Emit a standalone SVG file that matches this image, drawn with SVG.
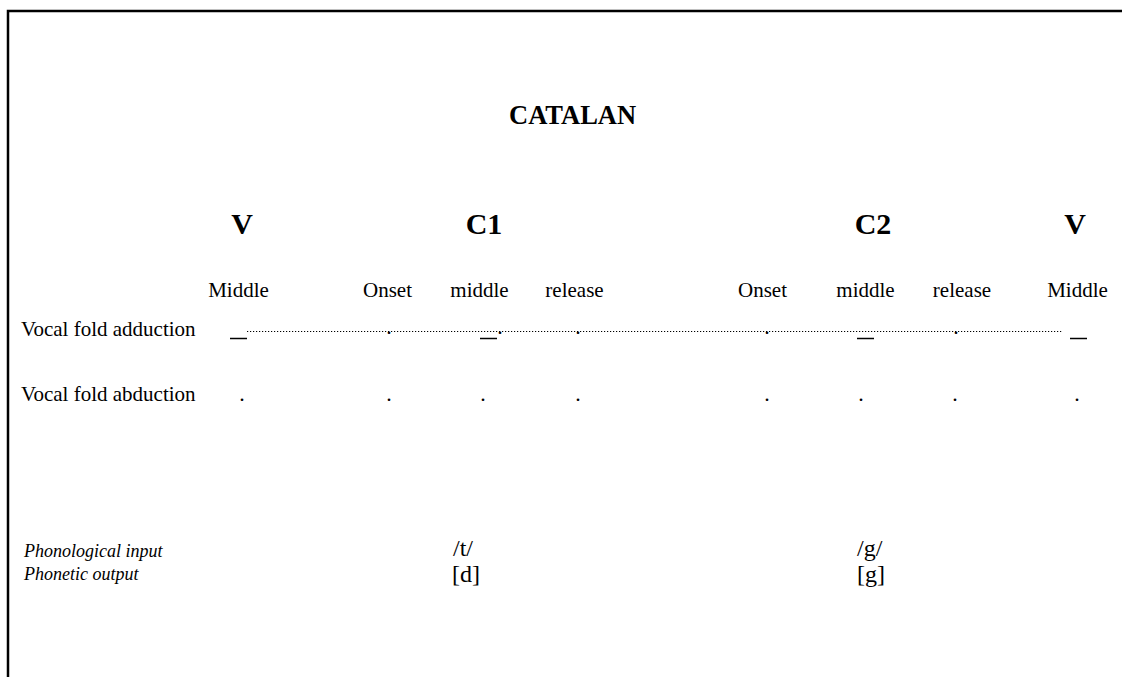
<svg xmlns="http://www.w3.org/2000/svg" width="1122" height="677" viewBox="0 0 1122 677">
  <style>
    .serif { font-family: "Liberation Serif", "Times New Roman", serif; fill: #000; }
    .title { font-size: 26.5px; font-weight: bold; }
    .seg { font-size: 30px; font-weight: bold; text-anchor: middle; }
    .lbl { font-size: 21px; }
    .phase { font-size: 21px; text-anchor: middle; }
    .dot { font-size: 22px; text-anchor: middle; }
    .row { font-size: 18px; font-style: italic; }
    .sym { font-size: 24px; }
    .bar { stroke: #000; stroke-width: 1.5; }
    .leader { stroke: #000; stroke-width: 1.2; stroke-dasharray: 1.2 1.8; fill: none; }
  </style>

  <rect width="1122" height="677" fill="#fff"/>
  <!-- frame: top and left edges only -->
  <path d="M8 677 V11 H1122" fill="none" stroke="#000" stroke-width="2.5"/>

  <g id="title">
    <text class="serif title" x="509" y="124">CATALAN</text>
  </g>

  <g id="segments">
    <text class="serif seg" x="242" y="234">V</text>
    <text class="serif seg" x="484" y="234">C1</text>
    <text class="serif seg" x="873" y="234">C2</text>
    <text class="serif seg" x="1075" y="234">V</text>
  </g>

  <g id="phases">
    <text class="serif phase" x="238.5" y="297">Middle</text>
    <text class="serif phase" x="387.5" y="297">Onset</text>
    <text class="serif phase" x="479.5" y="297">middle</text>
    <text class="serif phase" x="574.5" y="297">release</text>
    <text class="serif phase" x="762.5" y="297">Onset</text>
    <text class="serif phase" x="865.5" y="297">middle</text>
    <text class="serif phase" x="962" y="297">release</text>
    <text class="serif phase" x="1077.5" y="297">Middle</text>
  </g>

  <g id="adduction">
    <text class="serif lbl" x="21" y="336">Vocal fold adduction</text>
    <text class="serif dot" x="389" y="333.5">.</text>
    <text class="serif dot" x="500" y="333.5">.</text>
    <text class="serif dot" x="578" y="333.5">.</text>
    <text class="serif dot" x="767" y="333.5">.</text>
    <text class="serif dot" x="956" y="333.5">.</text>
    <line class="bar" x1="230" y1="338.5" x2="247" y2="338.5"/>
    <line class="bar" x1="480" y1="338.5" x2="497" y2="338.5"/>
    <line class="bar" x1="857" y1="338.5" x2="874" y2="338.5"/>
    <line class="bar" x1="1070" y1="338.5" x2="1087" y2="338.5"/>
  </g>

  <g id="abduction">
    <text class="serif lbl" x="21" y="401">Vocal fold abduction</text>
    <text class="serif dot" x="242" y="401">.</text>
    <text class="serif dot" x="389" y="401">.</text>
    <text class="serif dot" x="483" y="401">.</text>
    <text class="serif dot" x="578" y="401">.</text>
    <text class="serif dot" x="767" y="401">.</text>
    <text class="serif dot" x="861" y="401">.</text>
    <text class="serif dot" x="955" y="401">.</text>
    <text class="serif dot" x="1077" y="401">.</text>
  </g>

  <g id="connectors">
    <line class="leader" x1="247" y1="331.5" x2="1062" y2="331.5"/>
  </g>

  <g id="input">
    <text class="serif row" x="24" y="557">Phonological input</text>
    <text class="serif sym" x="453" y="556">/t/</text>
    <text class="serif sym" x="857" y="556">/g/</text>
  </g>

  <g id="output">
    <text class="serif row" x="24" y="580">Phonetic output</text>
    <text class="serif sym" x="452" y="582">[d]</text>
    <text class="serif sym" x="857" y="582">[g]</text>
  </g>
</svg>
